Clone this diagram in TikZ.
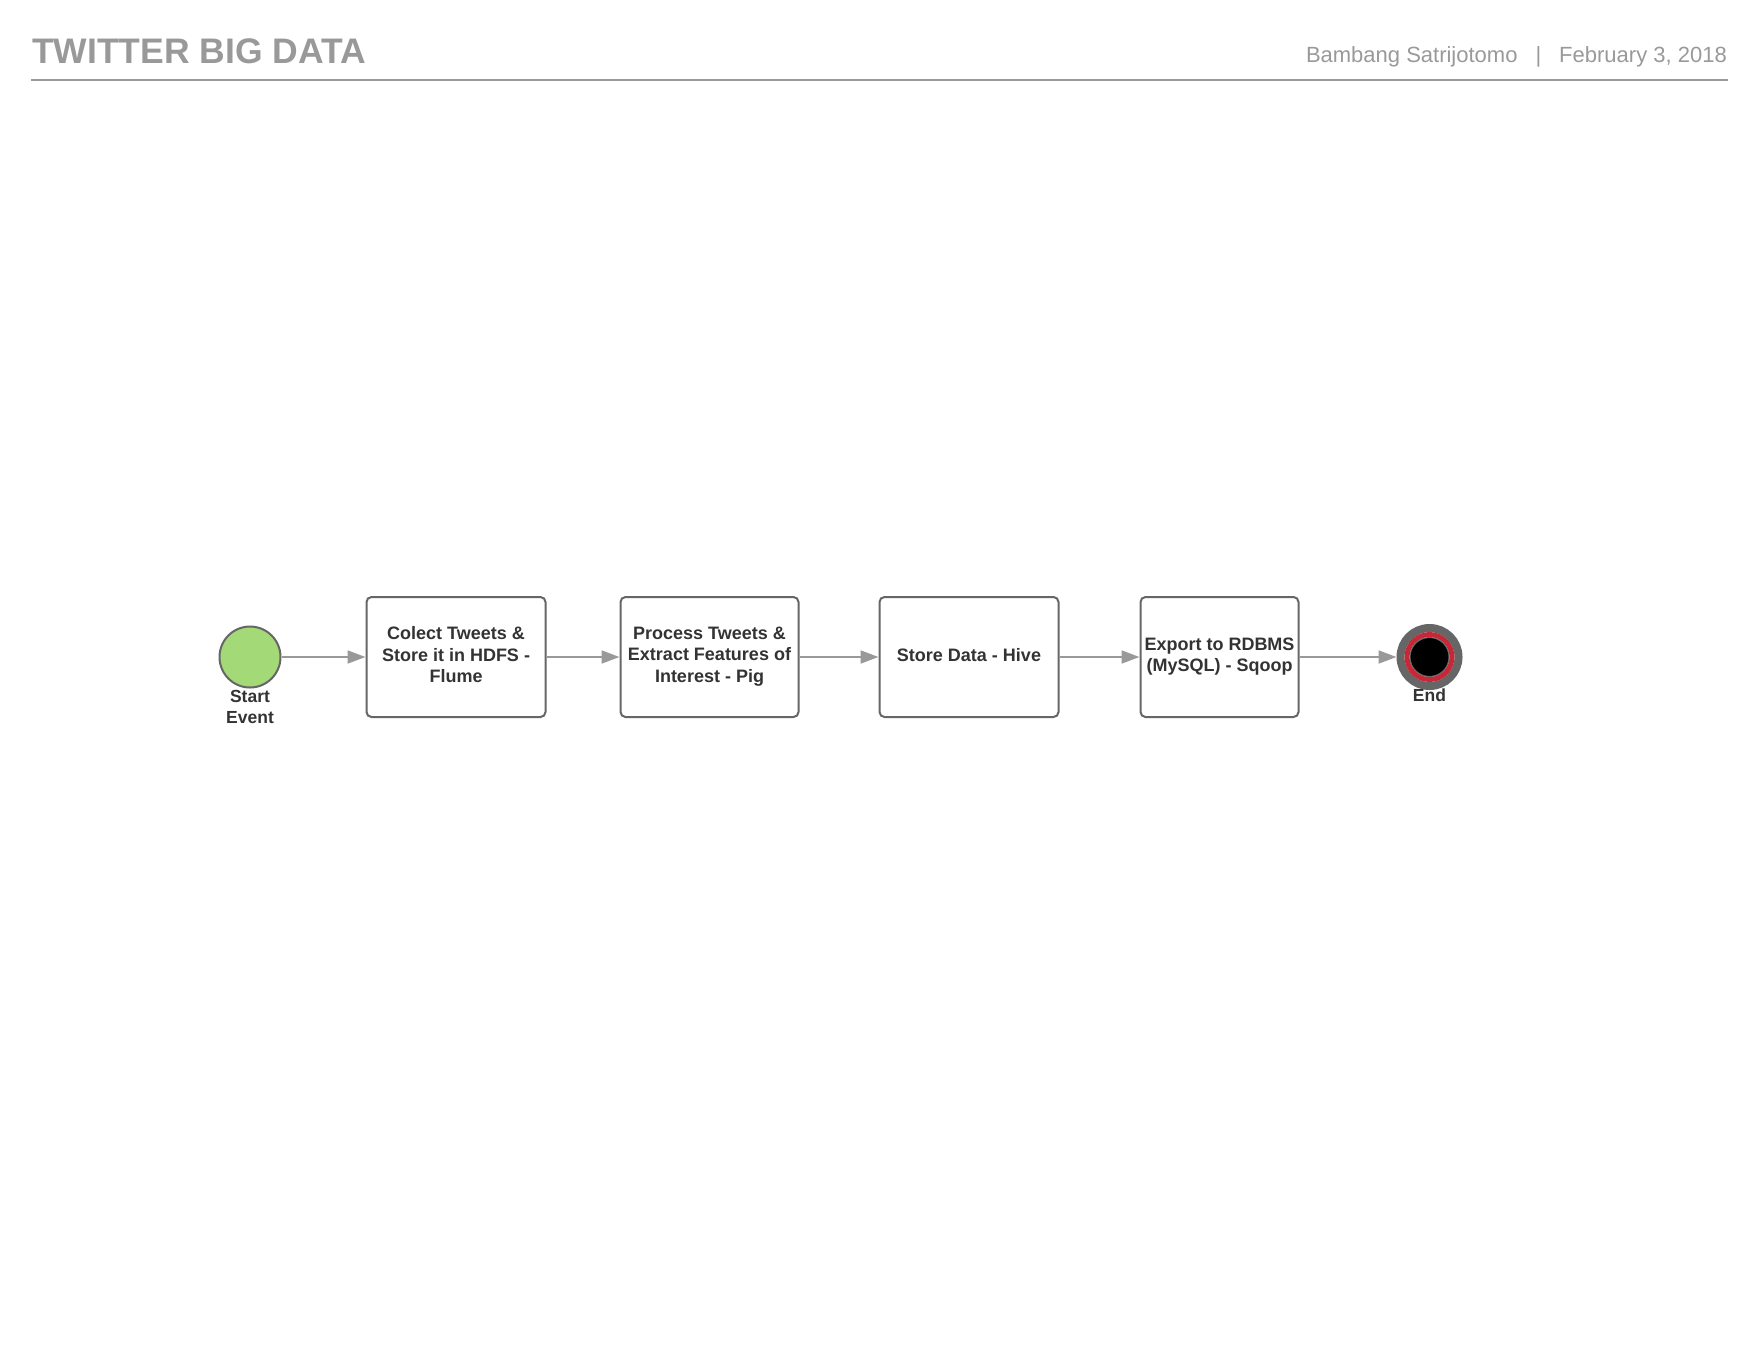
\documentclass[tikz,border=0pt]{standalone}
\usepackage{fontspec}
\setmainfont{Liberation Sans}
\usepackage{tikz}
\usetikzlibrary{arrows.meta,shapes,positioning}
\usepackage{xcolor}
\definecolor{twgray}{RGB}{153,153,153}
\definecolor{twdark}{RGB}{102,102,102}
\definecolor{twtext}{RGB}{51,51,51}
\definecolor{twgreen}{RGB}{163,217,119}
\definecolor{twred}{RGB}{199,40,55}
\tikzstyle{flow} = [line width=1.8pt,-{Triangle[length=18pt,width=13pt]},color=twgray]
\tikzstyle{task} = [rectangle, rounded corners=5pt, minimum height=120pt, text centered, align=center, draw=twdark, fill=white, line width=2pt, text=twtext, font=\fontsize{18}{21.5}\selectfont\bfseries, execute at end node={\rule[-5pt]{0pt}{0pt}}]
\tikzstyle{evlabel} = [align=center, text=twtext, inner sep=0pt, font=\fontsize{17.5}{21}\selectfont\bfseries]

\begin{document}
\begin{tikzpicture}[x=1pt, y=-1pt]
\useasboundingbox (0,0) rectangle (1760,1360);
% header
\node (title) [anchor=base west, inner sep=0pt, text=twgray, font=\fontsize{35.5}{40}\selectfont\bfseries] at (32,63) {TWITTER BIG DATA};
\node (byline) [anchor=base east, inner sep=0pt, text=twgray, font=\fontsize{22}{26}\selectfont] at (1727,62) {Bambang Satrijotomo\hspace{18pt}|\hspace{18pt}February 3, 2018};
\draw[twgray, line width=2pt] (31,80) -- (1728,80);

% Twitter pipeline
\node (start) [circle, minimum size=61pt, draw=twdark, fill=twgreen, line width=2pt] at (250,657) {};
\node (collect) [task, minimum width=179pt, right=84pt of start] {Colect Tweets \&\\Store it in HDFS -\\Flume};
\node (process) [task, minimum width=178pt, right=73pt of collect] {Process Tweets \&\\Extract Features of\\Interest - Pig};
\node (hive) [task, minimum width=179pt, right=79pt of process] {Store Data - Hive};
\node (sqoop) [task, minimum width=158pt, right=80pt of hive] {Export to RDBMS\\(MySQL) - Sqoop};
\node (end) [circle, minimum size=58pt, draw=twdark, line width=8pt, right=97pt of sqoop] {};
\draw[twred, line width=5pt] (end.center) circle (22.5pt);
\fill[black, draw=twdark, line width=1pt] (end.center) circle (19.5pt);

\node (startlbl) [evlabel, below=2pt of start] {Start\\Event};
\node (endlbl) [evlabel, below=-1pt of end] {End};

\draw[flow] (start) -- (collect);
\draw[flow] (collect) -- (process);
\draw[flow] (process) -- (hive);
\draw[flow] (hive) -- (sqoop);
\draw[flow] (sqoop) -- (end);
\end{tikzpicture}
\end{document}
